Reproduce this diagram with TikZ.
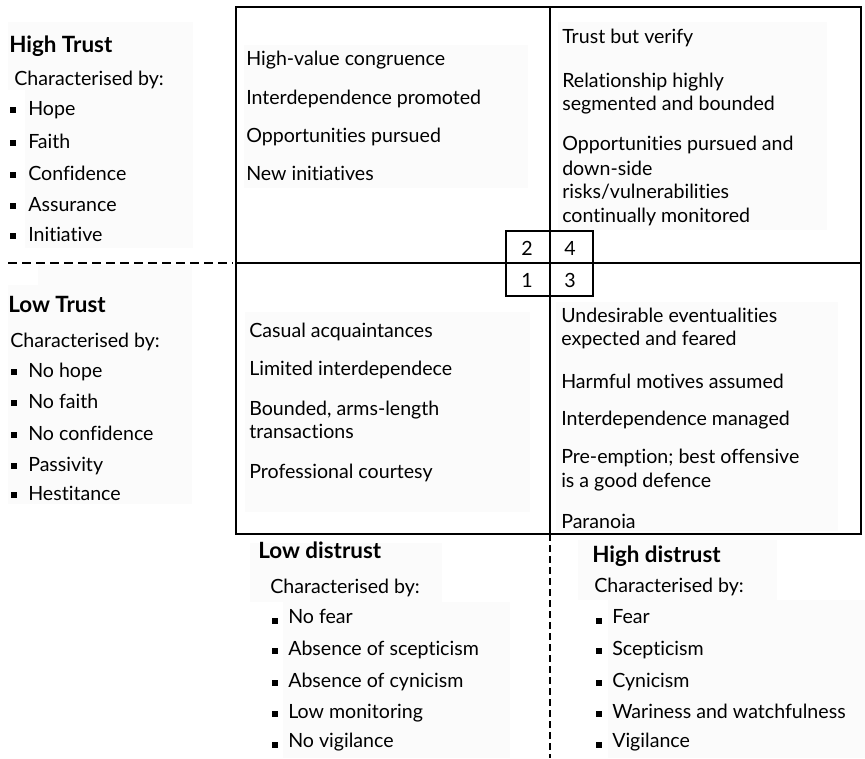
\documentclass[tikz,border=0pt]{standalone}
\usepackage{fontspec}
\setmainfont{Lato}[Ligatures=NoCommon]
\definecolor{panelgray}{RGB}{251,251,251}
\begin{document}
\begin{tikzpicture}[x=0.75pt,y=-0.75pt,
  every node/.style={inner sep=0pt},
  txt/.style={anchor=base west, font=\fontsize{14.7}{17}\selectfont},
  head/.style={anchor=base west, font=\fontsize{16.8}{19}\selectfont\bfseries},
  num/.style={font=\fontsize{14.7}{17}\selectfont},
  bul/.style={fill=black, minimum size=4.5pt},
  sbul/.style={fill=black, minimum size=3.8pt},
  panel/.style={fill=panelgray, draw=none},
  frame/.style={line width=1.7pt},
  thinframe/.style={line width=1.1pt},
  dashline/.style={line width=1.6pt, dash pattern=on 6.75pt off 3.75pt},
  vdashline/.style={line width=1.6pt, dash pattern=on 5.25pt off 3pt}]
\useasboundingbox (0,0) rectangle (865,758);
% faint panels
\fill[panel] (8,22) rectangle (193,90);
\fill[panel] (25,90) rectangle (193,248);
\fill[panel] (38,265) rectangle (192,285);
\fill[panel] (8,285) rectangle (192,504);
\fill[panel] (244,45) rectangle (528,188);
\fill[panel] (558,22) rectangle (827,230);
\fill[panel] (245,312) rectangle (530,512);
\fill[panel] (556,302) rectangle (838,531);
\fill[panel] (250,543) rectangle (442,602);
\fill[panel] (283,602) rectangle (510,758);
\fill[panel] (578,540) rectangle (777,600);
\fill[panel] (608,600) rectangle (865,758);

% main frame
\draw[frame] (236,7) rectangle (861,534);
\coordinate (vt) at (550,7);
\coordinate (vb) at (550,534);
\coordinate (hl) at (236,263);
\coordinate (hr) at (861,263);
\draw[frame] (vt) -- (vb);
\draw[frame] (hl) -- (hr);
% small numbered box
\draw[thinframe] (506,231) rectangle (593,296);
\node[num] (n2) at (527,248) {2};
\node[num] (n4) at (570,248) {4};
\node[num] (n1) at (527,280) {1};
\node[num] (n3) at (570,280) {3};
% dashed separators
\coordinate (dl) at (8,263);
\coordinate (dr) at (233,263);
\draw[dashline] (dl) -- (dr);
\coordinate (db) at (550,758);
\draw[vdashline] (vb) -- (db);

% High Trust
\node[head] (ht) at (9,52) {High Trust};
\node[txt] (htc) at (14,85) {Characterised by:};
\foreach \t/\b [count=\i] in {Hope/115,Faith/148,Confidence/180,Assurance/211,Initiative/241}{
  \node[bul] (htb\i) at (13,\b-5.5) {};
  \node[txt] (ht\i) at (28,\b) {\t};
}
% Low Trust
\node[head] (lt) at (8,312) {Low Trust};
\node[txt] (ltc) at (10,347) {Characterised by:};
\foreach \t/\b [count=\i] in {No hope/377,No faith/408,No confidence/440,Passivity/471,Hestitance/500}{
  \node[bul] (ltb\i) at (14,\b-5.5) {};
  \node[txt] (lt\i) at (28,\b) {\t};
}

% Quadrant 2 (top left)
\foreach \t/\b [count=\i] in {High-value congruence/65,Interdependence promoted/104,Opportunities pursued/142,New initiatives/180}{
  \node[txt] (qa\i) at (246,\b) {\t};
}
% Quadrant 4 (top right)
\foreach \t/\b [count=\i] in {Trust but verify/43,Relationship highly/87,segmented and bounded/110,Opportunities pursued and/150,down-side/175,{risks/vulnerabilities}/198,continually monitored/222}{
  \node[txt] (qb\i) at (562,\b) {\t};
}
% Quadrant 1 (bottom left)
\foreach \t/\b [count=\i] in {Casual acquaintances/337,Limited interdependece/375,{Bounded, arms-length}/415,transactions/438,Professional courtesy/478}{
  \node[txt] (qc\i) at (249,\b) {\t};
}
% Quadrant 3 (bottom right)
\foreach \t/\b [count=\i] in {Undesirable eventualities/322,expected and feared/345,Harmful motives assumed/388,Interdependence managed/425,{Pre-emption; best offensive}/463,is a good defence/487,Paranoia/528}{
  \node[txt] (qd\i) at (561,\b) {\t};
}

% Low distrust
\node[head] (ld) at (258,558) {Low distrust};
\node[txt] (ldc) at (270,593) {Characterised by:};
\foreach \t/\b/\o [count=\i] in {No fear/623/2,Absence of scepticism/655/4,Absence of cynicism/687/4,Low monitoring/718/4,No vigilance/747/2}{
  \node[sbul] (ldb\i) at (275,\b-\o) {};
  \node[txt] (ld\i) at (288,\b) {\t};
}
% High distrust
\node[head] (hd) at (592,562) {High distrust};
\node[txt] (hdc) at (594,592) {Characterised by:};
\foreach \t/\b/\o [count=\i] in {Fear/623/2,Scepticism/655/4,Cynicism/687/4,Wariness and watchfulness/718/4,Vigilance/747/2}{
  \node[sbul] (hdb\i) at (599,\b-\o) {};
  \node[txt] (hd\i) at (612,\b) {\t};
}
\end{tikzpicture}
\end{document}
